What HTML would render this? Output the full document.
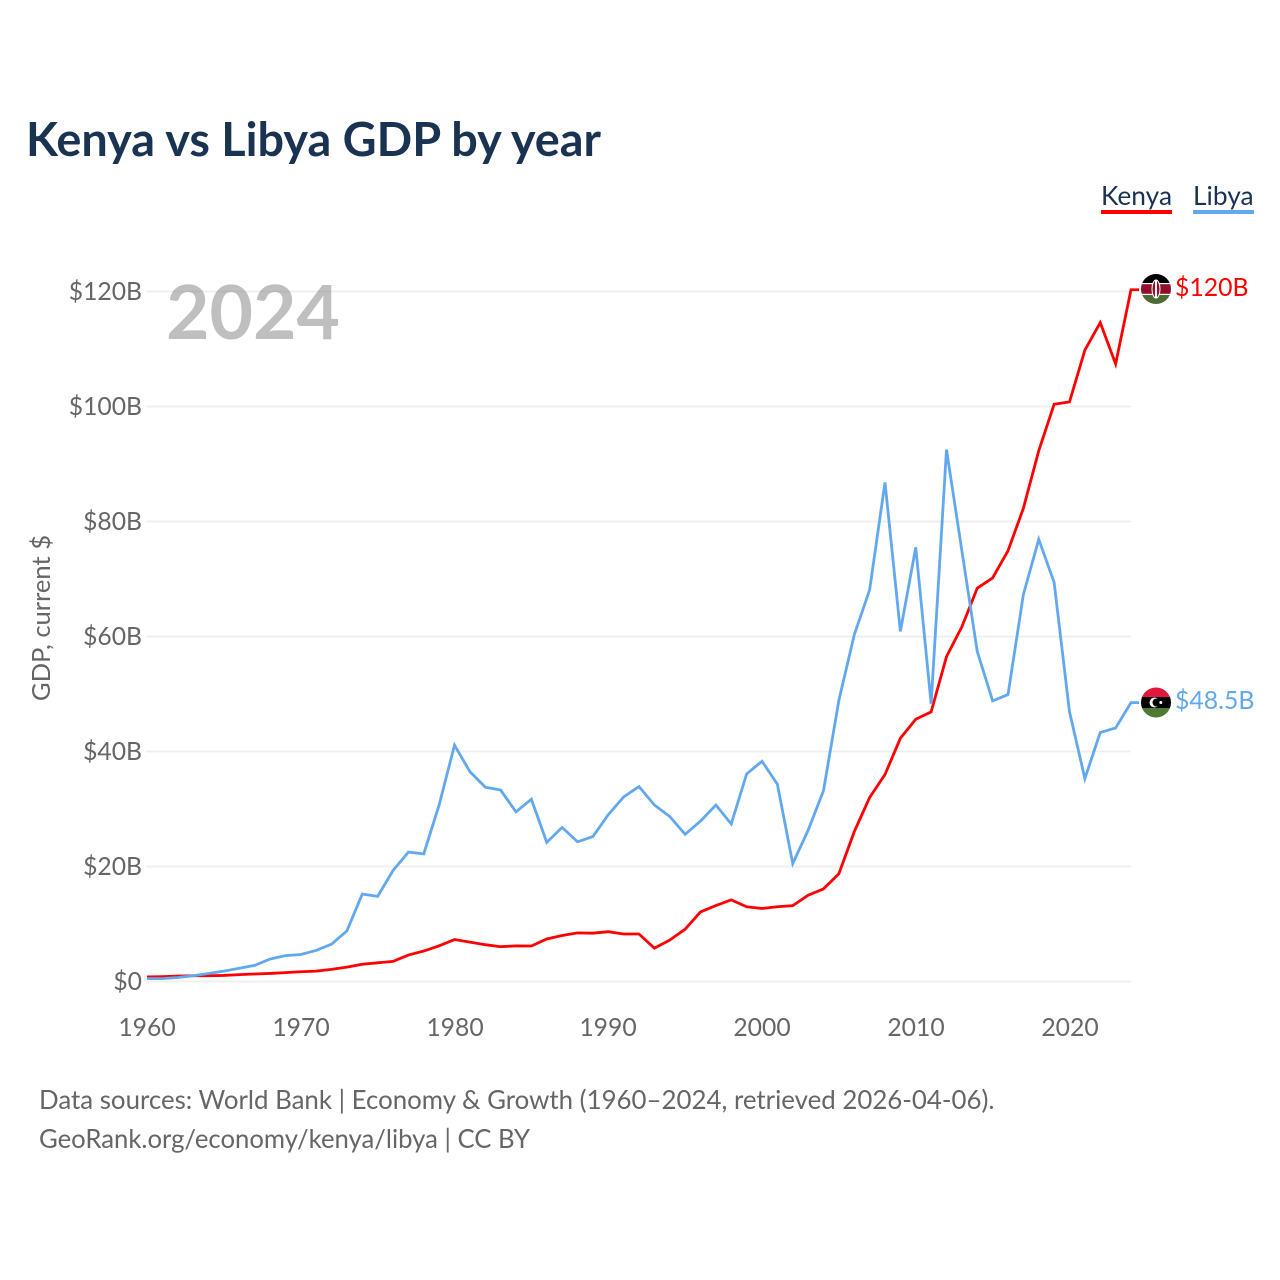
<!DOCTYPE html>
<html lang="en">
<head>
<meta charset="utf-8">
<title>Kenya vs Libya GDP by year</title>
<style>
html,body{margin:0;padding:0;background:#fff;width:1280px;height:1280px;overflow:hidden}
body{position:relative;font-family:Lato,Carlito,"Liberation Sans",sans-serif}
svg{display:block;position:absolute;left:0;top:0}
.t{position:absolute;white-space:nowrap;line-height:normal}
</style>
</head>
<body>
<svg id="chart" width="1280" height="1280" viewBox="0 0 1280 1280" xmlns="http://www.w3.org/2000/svg">
<defs>
<clipPath id="kenya-clip"><circle cx="1156" cy="289" r="15"/></clipPath>
<clipPath id="libya-clip"><circle cx="1156" cy="702.5" r="15"/></clipPath>
</defs>
<g id="grid"></g>
<g id="series"></g>
<rect x="1101" y="210" width="71" height="4" fill="#ff0000"/>
<rect x="1193" y="210" width="61" height="4" fill="#62a8ee"/>
<g clip-path="url(#kenya-clip)">
<rect x="1140" y="273" width="32" height="11" fill="#000"/>
<rect x="1140" y="284" width="32" height="10" fill="#8f0f2d"/>
<rect x="1140" y="294" width="32" height="11" fill="#4e6b35"/>
<rect x="1140" y="283" width="32" height="1.2" fill="#fff"/>
<rect x="1140" y="293.8" width="32" height="1.2" fill="#fff"/>
<ellipse cx="1156" cy="289" rx="4" ry="9" fill="#8f0f2d" stroke="#fff" stroke-width="1"/>
<rect x="1155" y="280" width="2" height="18" fill="#fff"/>
</g>
<g clip-path="url(#libya-clip)">
<rect x="1140" y="687" width="32" height="10" fill="#e3173e"/>
<rect x="1140" y="697" width="32" height="11" fill="#000"/>
<rect x="1140" y="708" width="32" height="10" fill="#4e7a33"/>
<circle cx="1154.5" cy="702.5" r="5" fill="#fff"/>
<circle cx="1156.5" cy="702.5" r="4" fill="#000"/>
<circle cx="1160.8" cy="702.5" r="1.5" fill="#fff"/>
</g>
</svg>

<div class="t" style="left:26px;top:110px;font-size:46.8px;font-weight:700;color:#1a3353">Kenya vs Libya GDP by year</div>
<div class="t" style="left:26px;top:768px;width:300px;text-align:center;font-size:25.6px;color:#666;transform-origin:0 0;transform:rotate(-90deg)">GDP, current $</div>
<div class="t" style="left:166px;top:265px;font-size:75px;font-weight:700;color:rgba(128,128,128,.5)">2024</div>
<div class="t" style="left:1101px;top:179px;font-size:26.3px;color:#1a3353">Kenya</div>
<div class="t" style="left:1193px;top:179px;font-size:26.3px;color:#1a3353">Libya</div>
<div class="t" style="left:1175px;top:273px;font-size:24.8px;color:#ff0000">$120B</div>
<div class="t" style="left:1175px;top:686px;font-size:24.8px;color:#62a8ee">$48.5B</div>
<div class="t" style="left:39px;top:1083px;font-size:25.85px;color:#666">Data sources: World Bank | Economy &amp; Growth (1960–2024, retrieved 2026-04-06).</div>
<div class="t" style="left:39px;top:1124px;font-size:25.7px;color:#666">GeoRank.org/economy/kenya/libya | CC BY</div>
<div id="y-labels"></div>
<div id="x-labels"></div>

<script>
const years = [1960,1961,1962,1963,1964,1965,1966,1967,1968,1969,1970,1971,1972,1973,1974,1975,1976,1977,1978,1979,1980,1981,1982,1983,1984,1985,1986,1987,1988,1989,1990,1991,1992,1993,1994,1995,1996,1997,1998,1999,2000,2001,2002,2003,2004,2005,2006,2007,2008,2009,2010,2011,2012,2013,2014,2015,2016,2017,2018,2019,2020,2021,2022,2023,2024];
const kenyaGdp = [0.8,0.85,0.95,1.0,1.0,1.05,1.2,1.3,1.4,1.55,1.7,1.8,2.1,2.5,3.0,3.25,3.5,4.6,5.3,6.2,7.3,6.85,6.4,6.05,6.2,6.17,7.4,8.0,8.45,8.4,8.66,8.26,8.26,5.8,7.2,9.1,12.1,13.2,14.2,13.0,12.7,13.0,13.2,15.0,16.1,18.75,26.05,32.0,36.0,42.3,45.6,46.9,56.5,61.7,68.4,70.2,74.9,82.3,92.3,100.4,100.8,109.8,114.6,107.4,120.3];
const libyaGdp = [0.5,0.5,0.7,1.0,1.4,1.8,2.3,2.8,3.9,4.5,4.7,5.4,6.5,8.8,15.2,14.8,19.3,22.5,22.2,30.7,41.1,36.5,33.8,33.3,29.5,31.7,24.2,26.8,24.3,25.2,29.0,32.1,33.9,30.7,28.7,25.6,27.9,30.7,27.4,36.1,38.3,34.3,20.5,26.3,33.2,48.9,60.3,68.1,86.8,60.9,75.5,48.3,92.5,74.9,57.4,48.8,49.9,67.3,76.9,69.4,46.9,35.3,43.3,44.1,48.5];
const yTicks = [0,20,40,60,80,100,120];
const yTickLabels = ["$0","$20B","$40B","$60B","$80B","$100B","$120B"];
const xTicks = [1960,1970,1980,1990,2000,2010,2020];
const xTickLabels = ["1960","1970","1980","1990","2000","2010","2020"];

const SVGNS = 'http://www.w3.org/2000/svg';
function xScale(year){ return 147 + (year - 1960) * (1131 - 147) / (2024 - 1960); }
function yScale(v){ return 981.5 - v * (981.5 - 291.5) / 120; }

const gridGroup = document.getElementById('grid');
const yGroup = document.getElementById('y-labels');
const xGroup = document.getElementById('x-labels');
const seriesGroup = document.getElementById('series');

yTicks.forEach(function(t, i){
  const ln = document.createElementNS(SVGNS, 'line');
  
  
  ln.setAttribute('x1', 146);
  ln.setAttribute('x2', 1131);
  ln.setAttribute('y1', yScale(t));
  ln.setAttribute('y2', yScale(t));
  ln.setAttribute('stroke', '#eeeeee');
  ln.setAttribute('stroke-width', 1.8);
  gridGroup.appendChild(ln);
  const tx = document.createElement('div');
  
  
  tx.className = 't';
  tx.style.right = (1280 - 142) + 'px';
  tx.style.top = Math.round(yScale(t) + 10 - 25) + 'px';
  tx.style.fontSize = '24.7px';
  tx.style.color = '#666';
  tx.textContent = yTickLabels[i];
  yGroup.appendChild(tx);
});

xTicks.forEach(function(t, i){
  const tx = document.createElement('div');
  
  
  tx.className = 't';
  tx.style.left = Math.round(xScale(t) - 50) + 'px';
  tx.style.width = '100px';
  tx.style.textAlign = 'center';
  tx.style.top = (1038 - 25) + 'px';
  tx.style.fontSize = '24.7px';
  tx.style.color = '#666';
  tx.textContent = xTickLabels[i];
  xGroup.appendChild(tx);
});

function linePath(values){
  const parts = values.map(function(v, i){
    return (i ? 'L' : 'M') + xScale(years[i]).toFixed(2) + ' ' + yScale(v).toFixed(2);
  });
  const last = values[values.length - 1];
  parts.push('L' + (xScale(years[years.length - 1]) + 8) + ' ' + yScale(last).toFixed(2));
  return parts.join(' ');
}

const kenyaLine = document.createElementNS(SVGNS, 'path');


kenyaLine.setAttribute('d', linePath(kenyaGdp));
kenyaLine.setAttribute('fill', 'none');
kenyaLine.setAttribute('stroke', '#ff0000');
kenyaLine.setAttribute('stroke-width', 2.8);
seriesGroup.appendChild(kenyaLine);

const libyaLine = document.createElementNS(SVGNS, 'path');


libyaLine.setAttribute('d', linePath(libyaGdp));
libyaLine.setAttribute('fill', 'none');
libyaLine.setAttribute('stroke', '#62a8ee');
libyaLine.setAttribute('stroke-width', 2.8);
seriesGroup.appendChild(libyaLine);
</script>
</body>
</html>
